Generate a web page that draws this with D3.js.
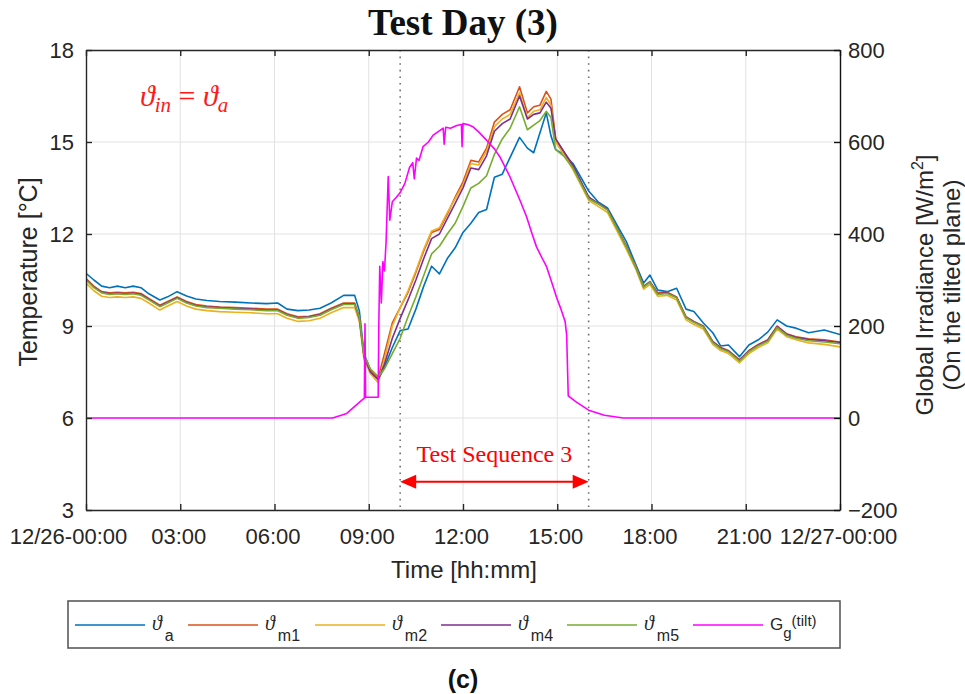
<!DOCTYPE html>
<html>
<head>
<meta charset="utf-8">
<script src="https://cdn.jsdelivr.net/npm/d3@7"></script>
<style>
  body { margin: 0; background: #fff; }
  svg { display: block; }
</style>
</head>
<body>
<svg id="chart" width="965" height="694"></svg>
<script>
// time of day in hours, shared by the temperature series
const hours = [0, 0.25, 0.5, 0.75, 1, 1.25, 1.5, 1.75, 2, 2.35,
  2.6, 2.9, 3.2, 3.5, 3.85, 4.25, 4.75, 5.25, 5.75, 6.1,
  6.4, 6.75, 7.1, 7.45, 7.8, 8.2, 8.55, 8.7, 8.85, 9.05,
  9.3, 9.5, 9.75, 10, 10.25, 10.5, 10.75, 11, 11.25, 11.5,
  11.75, 12, 12.25, 12.5, 12.75, 13, 13.25, 13.5, 13.8, 14.05,
  14.25, 14.45, 14.65, 14.8, 14.95, 15.2, 15.5, 15.75, 16, 16.3,
  16.6, 16.9, 17.2, 17.5, 17.75, 17.95, 18.2, 18.5, 18.8, 19.1,
  19.35, 19.65, 19.95, 20.2, 20.45, 20.8, 21.1, 21.4, 21.7, 22,
  22.3, 22.6, 23, 23.5, 24];

const thetaA = [10.72, 10.5, 10.3, 10.25, 10.3, 10.25, 10.3, 10.25, 10.05, 9.85,
  9.95, 10.12, 9.98, 9.88, 9.83, 9.8, 9.78, 9.75, 9.73, 9.75,
  9.55, 9.5, 9.52, 9.58, 9.75, 10.0, 10.0, 9.5, 8.1, 7.57,
  7.25, 7.65, 8.3, 8.85, 8.9, 9.55, 10.3, 10.95, 10.7, 11.2,
  11.55, 12.05, 12.35, 12.7, 12.8, 13.85, 13.95, 14.5, 15.15, 14.8,
  14.65, 15.3, 15.95, 15.2, 14.75, 14.6, 14.3, 13.85, 13.4, 13.05,
  12.85, 12.3, 11.75, 11.0, 10.4, 10.66, 10.17, 10.12, 10.23, 9.55,
  9.47, 9.1, 8.78, 8.35, 8.38, 8.0, 8.38, 8.55, 8.8, 9.2,
  9.0, 8.93, 8.78, 8.87, 8.72];

const thetaM1 = [10.55, 10.3, 10.12, 10.08, 10.1, 10.08, 10.1, 10.06, 9.9, 9.68,
  9.8, 9.95, 9.8, 9.7, 9.65, 9.62, 9.6, 9.58, 9.55, 9.55,
  9.4, 9.3, 9.32, 9.4, 9.58, 9.75, 9.75, 9.3, 8.0, 7.55,
  7.3, 8.1, 9.1, 9.6, 10.1, 10.75, 11.45, 12.05, 12.15, 12.65,
  13.2, 13.7, 14.4, 14.35, 14.8, 15.65, 15.9, 16.05, 16.8, 15.95,
  16.15, 16.2, 16.65, 16.4, 15.1, 14.7, 14.2, 13.7, 13.2, 13.0,
  12.8, 12.2, 11.6, 10.95, 10.3, 10.45, 10.08, 10.1, 9.95, 9.3,
  9.15, 9.0, 8.5, 8.3, 8.2, 7.9, 8.2, 8.4, 8.55, 9.0,
  8.75, 8.65, 8.58, 8.55, 8.48];

const thetaM2 = [10.4, 10.15, 9.97, 9.93, 9.95, 9.93, 9.95, 9.9, 9.75, 9.52,
  9.65, 9.8, 9.65, 9.55, 9.5, 9.47, 9.45, 9.43, 9.4, 9.4,
  9.25, 9.15, 9.17, 9.25, 9.43, 9.6, 9.6, 9.15, 7.9, 7.45,
  7.15, 7.9, 9.0, 9.6, 10.15, 10.8, 11.5, 12.1, 12.2, 12.7,
  13.15, 13.6, 14.3, 14.25, 14.7, 15.5, 15.75, 15.9, 16.6, 15.8,
  16.0, 16.05, 16.45, 16.2, 15.0, 14.6, 14.1, 13.6, 13.1, 12.9,
  12.7, 12.1, 11.5, 10.85, 10.2, 10.35, 9.97, 10.0, 9.85, 9.2,
  9.05, 8.9, 8.4, 8.2, 8.1, 7.8, 8.1, 8.3, 8.45, 8.9,
  8.65, 8.55, 8.45, 8.4, 8.32];

const thetaM4 = [10.52, 10.27, 10.1, 10.05, 10.07, 10.05, 10.07, 10.03, 9.87, 9.65,
  9.77, 9.92, 9.77, 9.67, 9.62, 9.6, 9.57, 9.55, 9.52, 9.52,
  9.37, 9.27, 9.3, 9.37, 9.55, 9.72, 9.72, 9.25, 8.0, 7.5,
  7.25, 7.75, 8.6, 9.25, 9.85, 10.5, 11.2, 11.85, 12.0, 12.5,
  13.0, 13.5, 14.15, 14.1, 14.55, 15.35, 15.6, 15.75, 16.5, 15.75,
  15.9, 15.95, 16.3, 16.1, 15.1, 14.7, 14.25, 13.72, 13.2, 13.0,
  12.8, 12.2, 11.6, 10.93, 10.28, 10.43, 10.05, 10.08, 9.93, 9.28,
  9.13, 8.98, 8.48, 8.28, 8.18, 7.88, 8.18, 8.38, 8.53, 8.98,
  8.73, 8.63, 8.56, 8.52, 8.46];

const thetaM5 = [10.5, 10.25, 10.08, 10.03, 10.05, 10.03, 10.05, 10.0, 9.85, 9.63,
  9.75, 9.9, 9.75, 9.65, 9.6, 9.58, 9.55, 9.53, 9.5, 9.5,
  9.35, 9.25, 9.28, 9.35, 9.53, 9.7, 9.7, 9.3, 8.05, 7.6,
  7.35, 7.6, 8.1, 8.6, 9.3, 9.95, 10.65, 11.35, 11.6, 12.0,
  12.35, 12.9, 13.5, 13.65, 13.9, 14.6, 15.1, 15.45, 16.15, 15.4,
  15.55, 15.7, 16.0, 15.8, 14.75, 14.55, 14.15, 13.65, 13.15, 12.98,
  12.78, 12.18, 11.58, 10.92, 10.27, 10.42, 10.03, 10.06, 9.92, 9.27,
  9.12, 8.97, 8.46, 8.26, 8.16, 7.86, 8.16, 8.36, 8.5, 8.95,
  8.7, 8.6, 8.52, 8.48, 8.42];

// global irradiance on the tilted plane (W/m2)
const gHours = [0, 7.85, 8.3, 8.8, 8.86, 8.88, 8.9, 9.3, 9.32, 9.35,
  9.4, 9.45, 9.5, 9.55, 9.62, 9.67, 9.75, 9.88, 10, 10.15,
  10.3, 10.4, 10.45, 10.52, 10.6, 10.73, 10.9, 11.05, 11.2, 11.37,
  11.4, 11.45, 11.6, 11.8, 11.95, 11.97, 12, 12.15, 12.32, 12.5,
  12.75, 13, 13.17, 13.49, 13.81, 14.02, 14.2, 14.34, 14.5, 14.66,
  14.8, 14.98, 15.1, 15.25, 15.3, 15.35, 15.6, 16, 16.5, 17.1, 24];
const gTilt = [0, 0, 10, 40, 43, 205, 45, 45, 200, 330,
  250, 340, 320, 380, 525, 430, 470, 480, 490, 510,
  545, 555, 520, 565, 560, 590, 600, 615, 622, 630,
  595, 632, 630, 636, 638, 590, 640, 638, 633, 622,
  604, 585, 568, 525, 474, 438, 400, 372, 350, 329,
  300, 262, 240, 210, 180, 48, 35, 17, 6, 0, 0];

const xTicks = [0, 3, 6, 9, 12, 15, 18, 21, 24];
const xTickLabels = ["12/26-00:00", "03:00", "06:00", "09:00", "12:00", "15:00", "18:00", "21:00", "12/27-00:00"];
const leftTicks = [3, 6, 9, 12, 15, 18];
const rightTicks = [-200, 0, 200, 400, 600, 800];
const seqStart = 10, seqEnd = 16;

const legendSymbols = ["ϑ", "ϑ", "ϑ", "ϑ", "ϑ", "G"];
const legendSubs = ["a", "m1", "m2", "m4", "m5", "g"];
const colors = ["#0072BD", "#D95319", "#EDB120", "#7E2F8E", "#77AC30", "#FF00FF"];

const tempSeries = [thetaA, thetaM1, thetaM2, thetaM4, thetaM5];

const svg = d3.select("#chart");
const sans = "'Liberation Sans', Arial, Helvetica, sans-serif";
const serif = "'Liberation Serif', 'Times New Roman', 'DejaVu Serif', serif";

const x = d3.scaleLinear().domain([0, 24]).range([86, 840]);
const yL = d3.scaleLinear().domain([3, 18]).range([510, 50]);
const yR = d3.scaleLinear().domain([-200, 800]).range([510, 50]);

// grid
const grid = svg.append("g").attr("stroke", "#e2e2e2").attr("stroke-width", 1);
grid.selectAll("line.gx").data(xTicks.slice(1, -1)).join("line")
  .attr("x1", d => x(d)).attr("x2", d => x(d))
  .attr("y1", yL(3)).attr("y2", yL(18));
grid.selectAll("line.gy").data(leftTicks.slice(1, -1)).join("line")
  .attr("x1", x(0)).attr("x2", x(24))
  .attr("y1", d => yL(d)).attr("y2", d => yL(d));

// test sequence boundaries
svg.append("g").selectAll("line").data([seqStart, seqEnd]).join("line")
  .attr("x1", d => x(d)).attr("x2", d => x(d))
  .attr("y1", yL(18)).attr("y2", yL(3))
  .attr("stroke", "#707070").attr("stroke-width", 1.6)
  .attr("stroke-dasharray", "1.6,5");

svg.append("clipPath").attr("id", "plotclip").append("rect")
  .attr("x", x(0)).attr("y", yL(18)).attr("width", x(24) - x(0)).attr("height", yL(3) - yL(18));

const plot = svg.append("g").attr("clip-path", "url(#plotclip)");

const lineL = d3.line().x((d, i) => x(hours[i])).y(d => yL(d));
tempSeries.forEach((s, k) => {
  plot.append("path").datum(s)
    .attr("d", lineL)
    .attr("fill", "none")
    .attr("stroke", colors[k])
    .attr("stroke-width", 1.6)
    .attr("stroke-linejoin", "round");
});

const lineR = d3.line().x((d, i) => x(gHours[i])).y(d => yR(d));
plot.append("path").datum(gTilt)
  .attr("d", lineR)
  .attr("fill", "none")
  .attr("stroke", colors[5])
  .attr("stroke-width", 1.6)
  .attr("stroke-linejoin", "round");

// axes
function styleAxis(g, color) {
  g.attr("font-size", 22).attr("font-family", sans);
  g.select(".domain").attr("stroke", color).attr("stroke-width", 1.4);
  g.selectAll(".tick line").attr("stroke", color).attr("stroke-width", 1.4);
  g.selectAll(".tick text").attr("fill", "#262626");
}

svg.append("g").attr("transform", `translate(0,${yL(3)})`)
  .call(d3.axisBottom(x).tickValues(xTicks).tickFormat((d, i) => xTickLabels[i])
    .tickSizeInner(-6).tickSizeOuter(0).tickPadding(18))
  .call(g => styleAxis(g, "#262626"))
  .call(g => g.selectAll(".tick text").attr("dx", (d, i) => i === 0 ? -18 : -2));

svg.append("g").attr("transform", `translate(0,${yL(18)})`)
  .call(d3.axisTop(x).tickValues(xTicks).tickFormat("")
    .tickSizeInner(-6).tickSizeOuter(0))
  .call(g => styleAxis(g, "#262626"));

svg.append("g").attr("transform", `translate(${x(0)},0)`)
  .call(d3.axisLeft(yL).tickValues(leftTicks)
    .tickSizeInner(-6).tickSizeOuter(0).tickPadding(12))
  .call(g => styleAxis(g, "#262626"));

svg.append("g").attr("transform", `translate(${x(24)},0)`)
  .call(d3.axisRight(yR).tickValues(rightTicks)
    .tickSizeInner(-6).tickSizeOuter(0).tickPadding(8))
  .call(g => styleAxis(g, "#111"));

// title and axis labels
svg.append("text").attr("x", 463).attr("y", 35)
  .attr("text-anchor", "middle").attr("font-family", serif)
  .attr("font-weight", "bold").attr("font-size", 37).attr("fill", "#111")
  .text("Test Day (3)");

svg.append("text").attr("x", 464).attr("y", 578)
  .attr("text-anchor", "middle").attr("font-family", sans)
  .attr("font-size", 24).attr("fill", "#262626")
  .text("Time [hh:mm]");

svg.append("text").attr("transform", "translate(37,272) rotate(-90)")
  .attr("text-anchor", "middle").attr("font-family", sans)
  .attr("font-size", 25).attr("fill", "#262626")
  .text("Temperature [°C]");

const rl = svg.append("text").attr("transform", "translate(933,285) rotate(-90)")
  .attr("text-anchor", "middle").attr("font-family", sans)
  .attr("font-size", 24).attr("fill", "#262626");
rl.append("tspan").text("Global Irradiance [W/m");
rl.append("tspan").attr("font-size", 16).attr("dy", -10).text("2");
rl.append("tspan").attr("dy", 10).text("]");

svg.append("text").attr("transform", "translate(960,285) rotate(-90)")
  .attr("text-anchor", "middle").attr("font-family", sans)
  .attr("font-size", 24).attr("fill", "#262626")
  .text("(On the tilted plane)");

// annotation: theta_in = theta_a
const ann = svg.append("text").attr("x", 140).attr("y", 106)
  .attr("fill", "#FF1A1A").attr("font-family", serif).attr("font-size", 30);
ann.append("tspan").attr("font-style", "italic").text("ϑ");
ann.append("tspan").attr("font-style", "italic").attr("font-size", 21).attr("dy", 6).text("in");
ann.append("tspan").attr("dy", -6).text(" = ");
ann.append("tspan").attr("font-style", "italic").text("ϑ");
ann.append("tspan").attr("font-style", "italic").attr("font-size", 21).attr("dy", 6).text("a");

// test sequence arrow
const arrowY = yL(3.92);
const ax0 = x(seqStart), ax1 = x(seqEnd);
svg.append("line").attr("x1", ax0 + 10).attr("x2", ax1 - 10)
  .attr("y1", arrowY).attr("y2", arrowY)
  .attr("stroke", "#FF0000").attr("stroke-width", 2);
svg.append("path")
  .attr("d", `M${ax0},${arrowY} L${ax0 + 16},${arrowY - 7} L${ax0 + 16},${arrowY + 7} Z`)
  .attr("fill", "#FF0000");
svg.append("path")
  .attr("d", `M${ax1},${arrowY} L${ax1 - 16},${arrowY - 7} L${ax1 - 16},${arrowY + 7} Z`)
  .attr("fill", "#FF0000");
svg.append("text").attr("x", (ax0 + ax1) / 2).attr("y", yL(4.57))
  .attr("text-anchor", "middle").attr("font-family", serif)
  .attr("font-size", 24).attr("fill", "#FF0000")
  .text("Test Sequence 3");

// legend
const legendX = [75, 188, 315, 441, 567, 693];
const legend = svg.append("g");
legend.append("rect").attr("x", 68).attr("y", 601).attr("width", 772).attr("height", 47)
  .attr("fill", "#fff").attr("stroke", "#5a5a5a").attr("stroke-width", 1.6);
legendSymbols.forEach((sym, i) => {
  const lx = legendX[i];
  legend.append("line").attr("x1", lx).attr("x2", lx + 70)
    .attr("y1", 625).attr("y2", 625)
    .attr("stroke", colors[i]).attr("stroke-width", 1.6);
  const t = legend.append("text").attr("x", lx + 77).attr("y", 630).attr("fill", "#262626");
  if (sym === "ϑ") {
    t.append("tspan").attr("font-family", serif).attr("font-style", "italic")
      .attr("font-size", 20).text(sym);
    t.append("tspan").attr("font-family", sans).attr("font-size", 16)
      .attr("dx", 3).attr("dy", 11).text(legendSubs[i]);
  } else {
    t.append("tspan").attr("font-family", sans).attr("font-size", 17).text(sym);
    t.append("tspan").attr("font-family", sans).attr("font-size", 15)
      .attr("dy", 8).text(legendSubs[i]);
    t.append("tspan").attr("font-family", sans).attr("font-size", 15)
      .attr("dy", -12).text("(tilt)");
  }
});

svg.append("text").attr("x", 463).attr("y", 688)
  .attr("text-anchor", "middle").attr("font-family", sans)
  .attr("font-weight", "bold").attr("font-size", 25).attr("fill", "#111")
  .text("(c)");
</script>
</body>
</html>
